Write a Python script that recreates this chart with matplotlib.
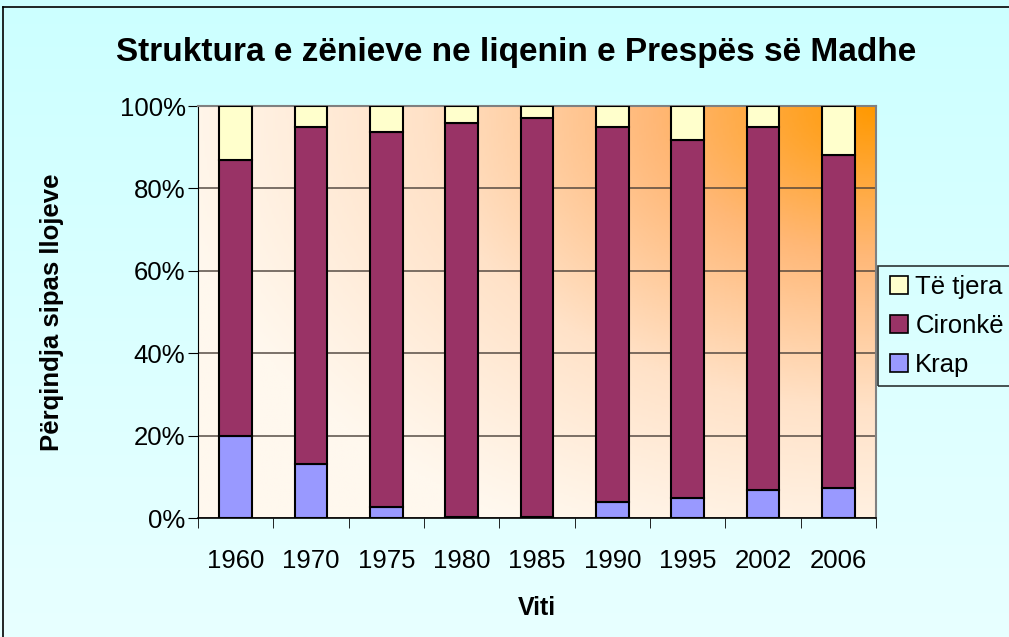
import numpy as np
import matplotlib
matplotlib.use("Agg")
import matplotlib.pyplot as plt
from matplotlib.colors import LinearSegmentedColormap
from matplotlib.lines import Line2D

plt.rcParams['font.family'] = ['Liberation Sans', 'DejaVu Sans']

# data (percent of catch)
years = ['1960', '1970', '1975', '1980', '1985', '1990', '1995', '2002', '2006']
krap = [20.0, 13.0, 2.7, 0.3, 0.3, 4.0, 4.8, 6.9, 7.3]
cironke = [66.8, 82.0, 91.1, 95.6, 96.7, 91.0, 86.9, 88.1, 80.8]
te_tjera = [13.2, 5.0, 6.2, 4.1, 3.0, 5.0, 8.3, 5.0, 11.9]

c_krap = '#9999ff'
c_cir = '#993366'
c_tje = '#ffffcc'

fig = plt.figure(figsize=(10.09, 6.37), dpi=100)

# figure background: light cyan vertical gradient
bg = fig.add_axes([0, 0, 1, 1], zorder=-5)
grad = np.linspace(0, 1, 256).reshape(-1, 1)
bg_cmap = LinearSegmentedColormap.from_list('bg', ['#ccffff', '#e8ffff'])
bg.imshow(grad, aspect='auto', cmap=bg_cmap, extent=[0, 1, 0, 1], origin='upper')
bg.plot([3 / 1009, 3 / 1009], [0, 1 - 7 / 637], color='black', lw=1.2)
bg.plot([3 / 1009, 1], [1 - 7 / 637, 1 - 7 / 637], color='black', lw=1.2)
bg.set_xlim(0, 1)
bg.set_ylim(0, 1)
bg.axis('off')

ax = fig.add_axes([198 / 1009, 1 - 518 / 637, 678 / 1009, 412 / 637])

# plot area: cream to orange gradient from top-right corner
nx, ny = 300, 200
xx, yy = np.meshgrid(np.linspace(0, 678, nx), np.linspace(0, 412, ny))
d = np.sqrt((678 - xx) ** 2 + ((412 - yy) * 1.5) ** 2) / 720
t = np.clip(1 - d, 0, 1) ** 1.1
pa_cmap = LinearSegmentedColormap.from_list('pa', ['#fff8ee', '#ffe2c8', '#ffb877', '#ff9900'])
ax.imshow(t, cmap=pa_cmap, aspect='auto', extent=[-0.5, 8.5, 0, 100],
          origin='lower', zorder=0, vmin=0, vmax=1)

x = np.arange(len(years))
w = 0.43
ax.bar(x, krap, w, color=c_krap, edgecolor='black', lw=1.5, zorder=3)
ax.bar(x, cironke, w, bottom=krap, color=c_cir, edgecolor='black', lw=1.5, zorder=3)
bot2 = np.array(krap) + np.array(cironke)
ax.bar(x, te_tjera, w, bottom=bot2, color=c_tje, edgecolor='black', lw=1.5, zorder=3)

ax.set_xlim(-0.5, 8.5)
ax.set_ylim(0, 100)
ax.set_yticks([0, 20, 40, 60, 80, 100])
ax.set_yticklabels(['0%', '20%', '40%', '60%', '80%', '100%'], fontsize=18.5)
ax.yaxis.grid(True, color='#4a3f38', lw=1.2, alpha=0.85)
for gl in ax.get_ygridlines():
    gl.set_zorder(1)

ax.set_xticks(x)
ax.set_xticklabels(years, fontsize=18.5)
ax.set_xticks(np.arange(-0.5, 9, 1), minor=True)
ax.tick_params(axis='x', which='major', length=0, pad=22)
ax.tick_params(axis='x', which='minor', length=7, direction='out', color='black')
ax.tick_params(axis='y', length=7, direction='out', color='black', pad=2)

for s in ['top', 'right']:
    ax.spines[s].set_color('#808080')
    ax.spines[s].set_linewidth(1.5)
ax.spines['left'].set_color('black')
ax.spines['bottom'].set_color('black')
ax.spines['bottom'].set_linewidth(1.2)

ax.set_xlabel('Viti', fontsize=18, fontweight='bold', labelpad=17)
ax.set_ylabel('Përqindja sipas llojeve', fontsize=18.5, fontweight='bold', labelpad=40)
fig.text(0.512, 1 - 52 / 637, 'Struktura e zënieve ne liqenin e Prespës së Madhe',
         fontsize=24, fontweight='bold', ha='center', va='center')

handles = [Line2D([], [], marker='s', ls='', markersize=13, markerfacecolor=c,
                  markeredgecolor='black', markeredgewidth=1.2)
           for c in [c_tje, c_cir, c_krap]]
leg = fig.legend(handles, ['Të tjera', 'Cironkë', 'Krap'], loc='center left',
                 bbox_to_anchor=(878 / 1009, 1 - 326 / 637), fontsize=18.5,
                 frameon=True, fancybox=False, edgecolor='black',
                 handletextpad=0.2, handlelength=0.9, labelspacing=0.6,
                 borderpad=0.35, borderaxespad=0)
leg.get_frame().set_facecolor('none')
leg.get_frame().set_linewidth(1.2)

fig.savefig('out.png', dpi=100)
